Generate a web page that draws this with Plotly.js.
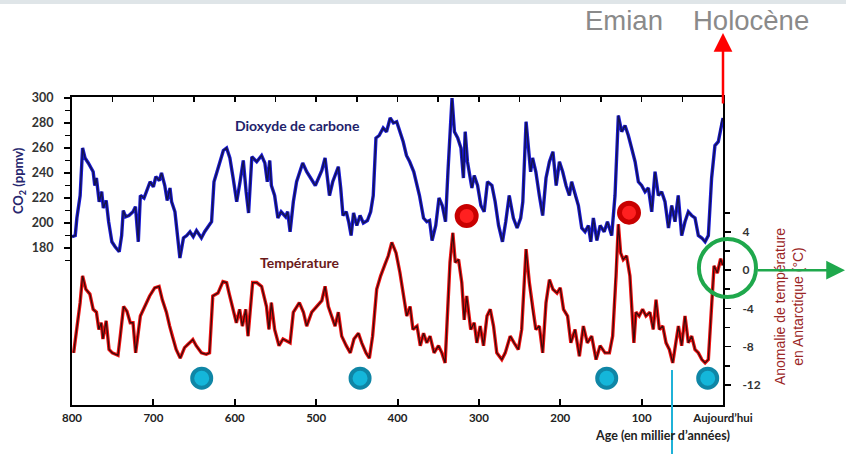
<!DOCTYPE html>
<html><head><meta charset="utf-8">
<script src="https://cdn.plot.ly/plotly-3.0.1.min.js"></script>
<style>html,body{margin:0;padding:0;background:#fff}#c{width:846px;height:454px}</style>
</head><body><div id="c"></div>
<script>
// CO2 (ppmv) vs age (kyr before present)
const co2Age = [800,796,794,790,787,784,780,777,774,772,770,766.6,763.5,761.5,758,755,751,747,742,739,737,734,730,725,722,718.5,716,711.5,704,700,697,692.6,690,686,683,679.6,677.6,673.5,670.7,667.4,663,659,655,651,647,641,637,632.5,628.5,625.5,620,614,610,606,602,597.6,593.5,589.5,586,583,579,573,567,563,560,557,555,551,547,543,537.5,535,532,528,524,516.5,511.6,506.6,501,497,493,489,486,483.6,479.6,476.7,472.7,469.8,467,463,460,457,454,450,446,442,437,433,429.8,426.5,422.5,417.6,413.5,409,405,401,397,393,389,385,380,377,373,368,364,360.6,357.5,353,349,345,341,338,335,333,330,326,322,319,316.8,314,308.6,305.7,301.6,297.5,293.5,289.4,284,280,275.8,271,267,262.7,257.6,253,248.6,246,242,239,236.4,234,230,225.7,221.6,217.5,213.3,209,205,201,197,192.9,188.8,186,181.8,177.7,173.6,169.5,165.4,162.5,159.3,155,151,146,142,136.8,132.7,128.6,124.5,120.4,116.3,112,108,104,100,95.8,91.7,87.6,83.5,79.4,75.4,71.3,67,63,59,55,50.8,46.7,42.6,38.5,34.4,30.3,26,22,18,14,9.9,5.8,1.6,0];
const co2Val = [189,190,204,222,260,252,248,245,241,230,236,217,225,212,218,201,185,181,177,190,210,205,206,209,213,185,222,220,233,229,237,234,240,230,218,228,217,209,193,172,188,190,193,189,194,188,193,197,201,233,245,258,260,252,236,217,233,250,225,208,253,249,254,248,233,250,230,222,204,209,205,209,193,217,233,248,241,236,230,236,242,252,233,222,233,238,245,228,206,209,201,190,208,198,206,200,202,209,222,268,270,276,273,284,280,281,273,265,254,249,241,233,222,204,201,202,186,198,220,214,201,241,278,300,273,268,260,236,273,249,228,238,230,214,209,233,230,217,198,185,201,222,204,196,204,217,281,257,241,252,241,222,206,236,249,257,230,249,241,230,222,233,222,214,196,193,198,185,204,186,198,193,201,190,222,286,273,278,270,260,249,233,230,225,228,209,241,222,225,217,196,214,201,222,190,201,209,206,204,190,188,185,190,236,262,265,281,284];

// Antarctic temperature anomaly (°C) vs age (kyr)
const tAge = [798,794,790,787,783,778,774,770,767,764,762,758,754.5,750.5,743.5,740.7,736.6,732.5,728.4,725,721.8,716,710.7,704.6,698.4,693,689,684,680,677,672,667,661.7,655.5,651.5,647.4,641,635,631,627,620.6,614.5,610,607,603,598,594,590.6,586.5,583.7,578,573,567,561,558,555,551,545.6,540.7,532,528,520.6,515.6,511.6,505.4,499,493,489,485,481,476.7,472.7,468.6,463,458,453.5,448,444,438.7,434.6,430.6,425.6,420.7,415.4,411.3,407,401.8,397,392.7,388.6,384.5,381,376,372,368,364,360,355,349.6,345.5,341.5,338.6,335.5,332,329,325,321,318,315,310,305.7,302.5,298.4,294.3,290,286,282,278,271.8,267.6,261.5,256.7,251.5,247.4,242,238,234,230,225.7,221.6,217.5,213.3,209,204,200,196,191,187,181.8,176.5,171.6,166.7,161.4,156,151,145,139.6,135.6,131.4,128.6,125.8,122.6,118.5,114.4,109.5,107,103,98.8,94.7,89.8,85.7,82.3,78.2,74,70,65.9,61.8,57.7,54.8,50.8,46.7,42.6,38.5,34.4,30.3,26,22,18,14.7,11,7,2.9,0.4];
const tVal = [-8.65,-6.2,-3.4,-0.6,-2.0,-2.5,-4.1,-4.4,-6.2,-5.5,-7.2,-5.3,-8.3,-8.65,-8.9,-6.9,-3.8,-4.3,-5.5,-5.5,-8.65,-4.8,-3.8,-2.7,-1.85,-1.7,-3.1,-4.4,-5.85,-6.9,-8.3,-9.2,-8.1,-7.6,-7.25,-7.9,-8.65,-8.8,-8.65,-2.7,-2.4,-1.2,-1.3,-2.4,-3.8,-5.5,-4.1,-5.85,-4.1,-6.9,-1.3,-1.3,-1.7,-3.8,-6.2,-3.4,-6.2,-7.9,-7.2,-7.6,-4.4,-3.4,-4.4,-5.85,-4.4,-3.8,-3.2,-1.7,-3.8,-4.8,-5.85,-4.4,-6.9,-7.9,-8.65,-7.2,-6.6,-7.6,-8.65,-9.2,-6.9,-2.0,-0.6,0.6,1.5,2.9,1.8,-0.27,-2.4,-4.8,-3.8,-6.2,-5.85,-7.9,-6.6,-7.6,-6.9,-8.65,-7.9,-8.65,-9.7,-4.4,0.8,3.9,0.8,1.1,-1.3,-5.2,-2.7,-6.2,-5.5,-7.6,-5.85,-7.9,-4.8,-4.1,-5.85,-8.65,-9.35,-8.65,-6.9,-7.6,-8.3,-6.2,2.2,-1.3,-4.1,-6.2,-5.85,-8.65,-3.4,-1.0,-2.0,-2.4,-1.85,-4.1,-4.8,-7.6,-6.2,-9.0,-5.85,-7.6,-6.9,-9.35,-7.9,-8.65,-8.65,-6.9,-0.6,4.8,1.8,1.1,1.5,-0.6,-7.6,-4.4,-4.8,-4.1,-4.8,-4.4,-6.2,-3.1,-6.2,-5.85,-7.6,-8.3,-9.7,-7.25,-5.85,-7.9,-4.8,-7.6,-6.9,-8.3,-8.65,-9.35,-9.7,-9.35,-4.4,0.45,-0.3,1.2,0.5];

// highlighted points
const redAge = [315, 115.5];
const redCo2 = [205.6, 208.3];
const cyanAge = [640.6, 446, 142.9, 18.8];
const cyanT = [-11.3, -11.3, -11.3, -11.3];
const cyanLineAge = 62.7;

const xTickVals = [800,700,600,500,400,300,200,100,0];
const xTickText = ['800','700','600','500','400','300','200','100','Aujourd\u2019hui'];
const co2TickVals = [180,200,220,240,260,280,300];
const co2Minor = [170,190,210,230,250,270,290];
const tTickVals = [-12,-8,-4,0,4];
const tTickText = ['-12','-8','-4','0','4'];
const tMinor = [-10,-6,-2,2,6];

const F = 'Lato, "Open Sans", sans-serif';
const A = '"Liberation Sans", Arial, sans-serif';

const traces = [
  {x:[800,0], y:[null,null], xaxis:'x2', yaxis:'y', mode:'lines', hoverinfo:'skip', showlegend:false},
  {x:co2Age, y:co2Val, xaxis:'x', yaxis:'y', mode:'lines', line:{color:'#1a1ad6', width:3.4}, hoverinfo:'skip'},
  {x:co2Age, y:co2Val, xaxis:'x', yaxis:'y', mode:'lines', line:{color:'#14144e', width:1.4}, hoverinfo:'skip'},
  {x:tAge, y:tVal, xaxis:'x', yaxis:'y2', mode:'lines', line:{color:'#ee1212', width:3.4}, hoverinfo:'skip'},
  {x:tAge, y:tVal, xaxis:'x', yaxis:'y2', mode:'lines', line:{color:'#3c0a0a', width:1.3}, hoverinfo:'skip'},
  {x:redAge, y:redCo2, xaxis:'x', yaxis:'y', mode:'markers', marker:{size:19, color:'#ff2020', line:{color:'#c80000', width:5}}, hoverinfo:'skip'},
  {x:cyanAge, y:cyanT, xaxis:'x', yaxis:'y2', mode:'markers', marker:{size:19, color:'#14b6da', line:{color:'#0f86a6', width:4}}, hoverinfo:'skip'}
];

function ann(text, x, y, font, extra) {
  return Object.assign({text:text, xref:'paper', yref:'paper', x:x, y:y, xanchor:'center', yanchor:'middle', showarrow:false, font:font}, extra || {});
}

const layout = {
  width:846, height:454,
  margin:{l:72, r:123, t:97, b:49},
  paper_bgcolor:'#fff', plot_bgcolor:'#fff',
  showlegend:false,
  xaxis:{range:[800,0], tickmode:'array', tickvals:xTickVals, ticktext:xTickText,
    ticks:'inside', ticklen:6, tickwidth:2, tickcolor:'#000',
    showline:true, linecolor:'#000', linewidth:2, showgrid:false, zeroline:false,
    tickfont:{family:F, size:11.5, color:'#222', weight:'bold'}, ticklabelstandoff:1},
  xaxis2:{overlaying:'x', side:'top', range:[800,0], tickmode:'linear', tick0:0, dtick:50,
    ticks:'inside', ticklen:5, tickwidth:1.5, tickcolor:'#000', showticklabels:false,
    showline:true, linecolor:'#000', linewidth:2, showgrid:false, zeroline:false},
  yaxis:{range:[54.4,300.8], tickmode:'array', tickvals:co2TickVals,
    ticks:'outside', ticklen:6, tickwidth:1.6, tickcolor:'#000',
    minor:{tickvals:co2Minor, ticks:'outside', ticklen:5, tickwidth:1.6, tickcolor:'#000'},
    showline:true, linecolor:'#000', linewidth:2, showgrid:false, zeroline:false,
    tickfont:{family:F, size:12.5, color:'#333', weight:'bold'}, ticklabelstandoff:8},
  yaxis2:{overlaying:'y', side:'right', range:[-14.1,18.1], tickmode:'array', tickvals:tTickVals, ticktext:tTickText,
    ticks:'outside', ticklen:6, tickwidth:1.6, tickcolor:'#000',
    minor:{tickvals:tMinor, ticks:'outside', ticklen:5, tickwidth:1.6, tickcolor:'#000'},
    showline:true, linecolor:'#000', linewidth:2, showgrid:false, zeroline:false,
    tickfont:{family:F, size:12, color:'#333', weight:'bold'}, ticklabelstandoff:9},
  shapes:[
    {type:'rect', xref:'paper', yref:'paper', x0:-0.12, x1:1.2, y0:1.302, y1:1.34, fillcolor:'#dfe5e8', line:{width:0}},
    {type:'line', xref:'x', yref:'paper', x0:cyanLineAge, x1:cyanLineAge, y0:0.1136, y1:-0.17, line:{color:'#1fb2d8', width:2}},
    {type:'circle', xref:'paper', yref:'paper', x0:0.963, x1:1.0507, y0:0.3506, y1:0.539, line:{color:'#1fa84c', width:4}}
  ],
  annotations:[
    ann('Dioxyde de carbone', 0.347, 0.909, {family:F, size:14, color:'#22226b', weight:'bold'}),
    ann('Température', 0.350, 0.464, {family:F, size:14, color:'#6b1a1a', weight:'bold'}),
    ann('CO<sub>2</sub> (ppmv)', (19-72)/651, 0.727, {family:F, size:13, color:'#26266e', weight:'bold'}, {textangle:-90}),
    ann('Anomalie de température<br>en Antarctique (°C)', (789-72)/651, 0.318, {family:A, size:14, color:'#9b2626'}, {textangle:-90}),
    ann('Age (en millier d\u2019années)', (662-72)/651, (405-435)/308, {family:F, size:12.5, color:'#222', weight:'bold'}),
    ann('Emian', (624-72)/651, (405-20)/308, {family:A, size:27.5, color:'#8a8a8a'}),
    ann('Holocène', (751-72)/651, (405-20)/308, {family:A, size:27.5, color:'#8a8a8a'}),
    {text:'', xref:'x', yref:'paper', x:0, y:(405-33)/308, ax:0, ay:72, axref:'pixel', ayref:'pixel',
      showarrow:true, arrowhead:2, arrowsize:1.5, arrowwidth:2.5, arrowcolor:'#ff0000', standoff:0, startstandoff:0},
    {text:'', xref:'paper', yref:'y2', x:(845-72)/651, y:0, ax:-89, ay:0, axref:'pixel', ayref:'pixel',
      showarrow:true, arrowhead:2, arrowsize:1.5, arrowwidth:2.5, arrowcolor:'#1fa84c', standoff:0, startstandoff:0}
  ]
};

Plotly.newPlot('c', traces, layout, {displayModeBar:false, staticPlot:true});
</script></body></html>
